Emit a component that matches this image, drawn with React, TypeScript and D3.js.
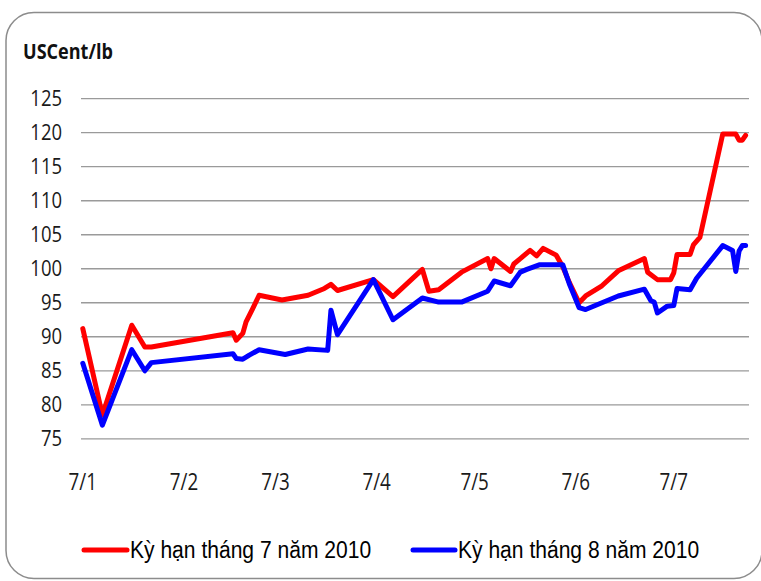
import React from "react";
import * as d3 from "d3";

const julDates = [
  "2010-01-07","2010-01-13","2010-01-22","2010-01-26","2010-01-28","2010-02-22","2010-02-23","2010-02-25","2010-02-26","2010-02-28",
  "2010-03-02","2010-03-09","2010-03-17","2010-03-22","2010-03-24","2010-03-26","2010-04-06","2010-04-12","2010-04-21","2010-04-23",
  "2010-04-26","2010-05-03","2010-05-11","2010-05-12","2010-05-13","2010-05-18","2010-05-19","2010-05-21","2010-05-24","2010-05-26",
  "2010-05-28","2010-06-01","2010-06-03","2010-06-05","2010-06-08","2010-06-10","2010-06-15","2010-06-20","2010-06-28","2010-06-29",
  "2010-07-02","2010-07-06","2010-07-07","2010-07-08","2010-07-12","2010-07-13","2010-07-15","2010-07-22","2010-07-26","2010-07-27",
  "2010-07-28","2010-07-29",
];
const julValues = [
  91.2, 78.5, 91.7, 88.5, 88.5, 90.6, 89.5, 90.5, 92.2, 94.1,
  96.1, 95.4, 96.1, 97.1, 97.7, 96.8, 98.4, 95.9, 99.9, 96.7,
  96.9, 99.5, 101.5, 100.0, 101.5, 99.6, 100.7, 101.5, 102.7, 101.9,
  103.0, 102.0, 100.3, 98.0, 95.0, 96.0, 97.5, 99.7, 101.5, 99.5,
  98.4, 98.4, 99.4, 102.1, 102.1, 103.5, 104.6, 119.8, 119.8, 118.9,
  118.9, 119.6,
];

const augDates = [
  "2010-01-07","2010-01-13","2010-01-22","2010-01-26","2010-01-28","2010-02-22","2010-02-23","2010-02-25","2010-02-27","2010-03-02",
  "2010-03-10","2010-03-17","2010-03-23","2010-03-24","2010-03-26","2010-04-06","2010-04-12","2010-04-21","2010-04-26","2010-05-03",
  "2010-05-11","2010-05-13","2010-05-18","2010-05-21","2010-05-23","2010-05-27","2010-06-03","2010-06-05","2010-06-08","2010-06-10",
  "2010-06-20","2010-06-28","2010-06-30","2010-07-01","2010-07-02","2010-07-05","2010-07-07","2010-07-08","2010-07-12","2010-07-14",
  "2010-07-22","2010-07-25","2010-07-26","2010-07-27","2010-07-28","2010-07-29",
];
const augValues = [
  86.1, 77.0, 88.1, 85.0, 86.2, 87.5, 86.8, 86.7, 87.3, 88.1,
  87.4, 88.2, 88.0, 93.9, 90.3, 98.4, 92.5, 95.7, 95.1, 95.1,
  96.7, 98.2, 97.5, 99.5, 99.9, 100.6, 100.6, 97.8, 94.3, 94.0,
  96.0, 97.0, 95.3, 95.1, 93.5, 94.5, 94.6, 97.1, 96.9, 98.6,
  103.4, 102.7, 99.6, 102.6, 103.4, 103.4,
];

const yTicks = [75, 80, 85, 90, 95, 100, 105, 110, 115, 120, 125];
const xTickDates = ["2010-01-07","2010-02-07","2010-03-07","2010-04-07","2010-05-07","2010-06-07","2010-07-07"];
const xTickLabels = ["7/1","7/2","7/3","7/4","7/5","7/6","7/7"];
const unitLabel = "USCent/lb";
const seriesNames = ["Kỳ hạn tháng 7 năm 2010", "Kỳ hạn tháng 8 năm 2010"];
const seriesColors = ["#ff0000", "#0000ff"];

export default function App() {
  const parse = (s: string) => new Date(s + "T00:00:00Z");
  const x = d3.scaleUtc()
    .domain([parse("2010-01-07"), parse("2010-07-07")])
    .range([82.8, 82.8 + 181 * 3.265]);
  const y = d3.scaleLinear().domain([75, 125]).range([438.8, 98.7]);
  const gridX1 = 81;
  const gridX2 = 749;

  const line = d3.line<[Date, number]>()
    .x((d) => x(d[0]))
    .y((d) => y(d[1]));

  const series = [
    julDates.map((d, i) => [parse(d), julValues[i]] as [Date, number]),
    augDates.map((d, i) => [parse(d), augValues[i]] as [Date, number]),
  ];

  const legendItems = [
    { lx1: 84, lx2: 127, tx: 130 },
    { lx1: 413, lx2: 455, tx: 458 },
  ];

  return (
    <svg width={761} height={581} style={{ position: "absolute", left: 0, top: 0 }}>
      <rect x={0} y={0} width={761} height={581} fill="#fff" />
      <rect x={6} y={12.5} width={756} height={566} rx={28} ry={28} fill="#fff" stroke="#8c8c8c" strokeWidth={1.5} />
      <text
        transform="translate(23,58.5) scale(0.86,1)"
        fontFamily="'Open Sans', sans-serif"
        fontWeight="bold"
        fontSize={21}
        fill="#111"
      >
        {unitLabel}
      </text>
      {yTicks.map((t) => (
        <g key={t}>
          <line x1={gridX1} x2={gridX2} y1={y(t)} y2={y(t)} stroke="#9a9a9a" strokeWidth={1.3} />
          <text
            transform={`translate(62,${y(t) + 7.5}) scale(0.88,1)`}
            textAnchor="end"
            fontFamily="'Open Sans', sans-serif"
            fontSize={21}
            fill="#1a1a1a"
          >
            {t}
          </text>
        </g>
      ))}
      {xTickDates.map((d, i) => (
        <text
          key={d}
          transform={`translate(${x(parse(d))},490) scale(0.8,1)`}
          textAnchor="middle"
          fontFamily="'Open Sans', sans-serif"
          fontSize={23.5}
          fill="#1a1a1a"
        >
          {xTickLabels[i]}
        </text>
      ))}
      {series.map((s, i) => (
        <path
          key={i}
          d={line(s) || ""}
          fill="none"
          stroke={seriesColors[i]}
          strokeWidth={5}
          strokeLinejoin="round"
          strokeLinecap="round"
        />
      ))}
      {legendItems.map((it, i) => (
        <g key={i}>
          <line x1={it.lx1} x2={it.lx2} y1={550} y2={550} stroke={seriesColors[i]} strokeWidth={5} strokeLinecap="round" />
          <text
            transform={`translate(${it.tx},558.3) scale(0.86,1)`}
            fontFamily="'Liberation Sans', Arial, sans-serif"
            fontSize={24.5}
            fill="#000"
          >
            {seriesNames[i]}
          </text>
        </g>
      ))}
    </svg>
  );
}
